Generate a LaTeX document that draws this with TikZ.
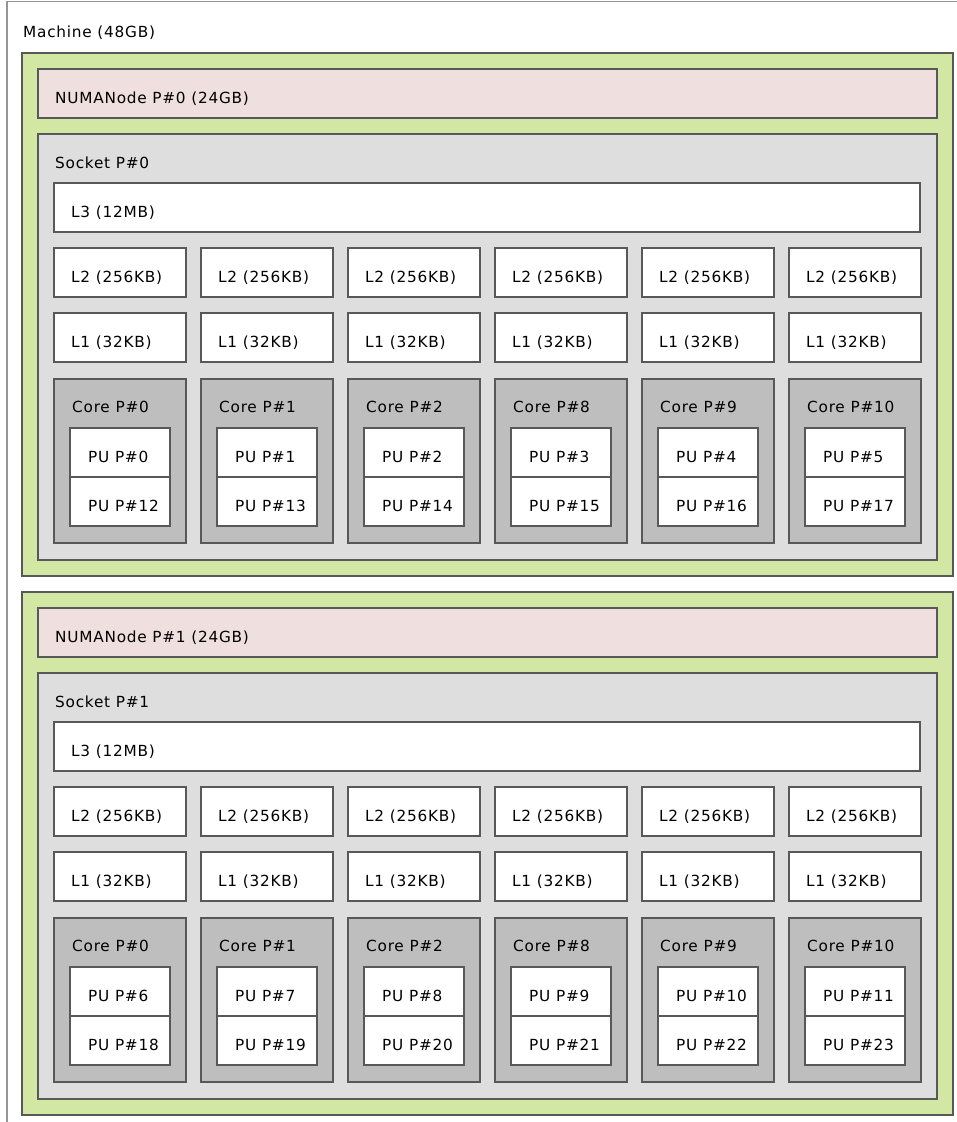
\documentclass[tikz,border=0pt]{standalone}
\usepackage{fontspec}
\setmainfont{DejaVu Sans}[LetterSpace=5]
\usepackage{xcolor}
\usepackage{tikz}
\usetikzlibrary{positioning}

\definecolor{edge}{RGB}{88,88,88}
\definecolor{machineedge}{RGB}{150,150,150}
\definecolor{numagreen}{RGB}{210,231,164}
\definecolor{mempink}{RGB}{239,223,222}
\definecolor{sockgray}{RGB}{222,222,222}
\definecolor{coregray}{RGB}{190,190,190}

\begin{document}
\begin{tikzpicture}[
  x=1pt, y=-1pt,
  box/.style={draw=edge,line width=1.6pt,anchor=north west,inner sep=0pt,outer sep=0pt},
  grp/.style={box,fill=numagreen,minimum width=931pt,minimum height=523pt},
  mem/.style={box,fill=mempink,minimum width=899pt,minimum height=49pt},
  sock/.style={box,fill=sockgray,minimum width=899pt,minimum height=426pt},
  cache/.style={box,fill=white,minimum width=132pt,minimum height=49pt},
  core/.style={box,fill=coregray,minimum width=132pt,minimum height=164pt},
  pu/.style={box,fill=white,minimum width=100pt,minimum height=49pt},
  lbl/.style={anchor=base west,inner sep=0pt,font=\fontsize{15.3}{18}\selectfont},
]
\clip (0,0) rectangle (957,1122);

% whole machine, runs off the right and bottom edge
\node[box,draw=machineedge,line width=1.2pt,minimum width=1000pt,minimum height=1200pt] (machine) at (7,1.5) {};
\node[lbl] (machine-t) at (23,37) {Machine (48GB)};

% one block per NUMA node
\foreach \n/\top/\a/\b in {0/53/0/12, 1/592/6/18} {
  \node[grp] (grp\n) at (22,\top) {};
  \node[mem, below right=16pt and 16pt of grp\n.north west] (mem\n) {};
  \node[lbl] (mem\n-t) at ([shift={(17pt,-34pt)}]mem\n.north west) {NUMANode P\#\n{} (24GB)};
  \node[sock, below=16pt of mem\n.south west, anchor=north west] (sock\n) {};
  \node[lbl] (sock\n-t) at ([shift={(17pt,-34pt)}]sock\n.north west) {Socket P\#\n};
  \node[cache, minimum width=866pt, below right=49pt and 16pt of sock\n.north west] (l3-\n) {};
  \node[lbl] (l3-\n-t) at ([shift={(17pt,-34pt)}]l3-\n.north west) {L3 (12MB)};

  % six cores side by side
  \foreach \i/\c in {0/0, 1/1, 2/2, 3/8, 4/9, 5/10} {
    \pgfmathtruncatemacro{\pa}{\a+\i}
    \pgfmathtruncatemacro{\pb}{\b+\i}
    \node[cache] (l2-\n-\i) at (54+147*\i,\top+195) {};
    \node[lbl] at ([shift={(17pt,-34pt)}]l2-\n-\i.north west) {L2 (256KB)};
    \node[cache, below=16pt of l2-\n-\i.south west, anchor=north west] (l1-\n-\i) {};
    \node[lbl] at ([shift={(17pt,-34pt)}]l1-\n-\i.north west) {L1 (32KB)};
    \node[core, below=17pt of l1-\n-\i.south west, anchor=north west] (core-\n-\i) {};
    \node[lbl] at ([shift={(18pt,-33pt)}]core-\n-\i.north west) {Core P\#\c};
    \node[pu, below right=49pt and 16pt of core-\n-\i.north west] (pua-\n-\i) {};
    \node[lbl] at ([shift={(18pt,-34pt)}]pua-\n-\i.north west) {PU P\#\pa};
    \node[pu, below=0pt of pua-\n-\i.south west, anchor=north west] (pub-\n-\i) {};
    \node[lbl] at ([shift={(18pt,-34pt)}]pub-\n-\i.north west) {PU P\#\pb};
  }
}
\end{tikzpicture}
\end{document}
